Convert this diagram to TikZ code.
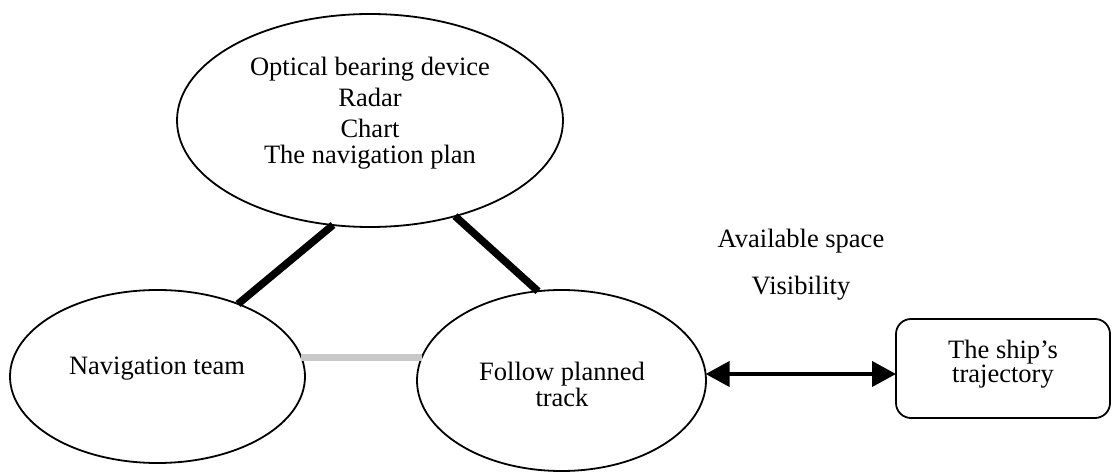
\documentclass[tikz,border=0pt]{standalone}
\usepackage{fontspec}
\setmainfont{Liberation Serif}
\usetikzlibrary{shapes.geometric,arrows.meta,calc}
\definecolor{linkgray}{RGB}{200,200,200}
\begin{document}
\begin{tikzpicture}[x=1pt,y=-1pt,
  bubble/.style={draw, ellipse, line width=1.8pt, inner sep=0pt, outer sep=0pt},
  words/.style={font=\fontsize{26.5}{25}\selectfont, inner sep=0pt, outer sep=0pt, align=center, anchor=base},
  heavylink/.style={line width=7.5pt},
  lightlink/.style={line width=7pt, draw=linkgray},
  twoway/.style={line width=4pt, {Triangle[length=24pt,width=25pt]}-{Triangle[length=24pt,width=25pt]}},
  panel/.style={draw, rounded corners=15pt, line width=1.8pt, minimum width=214pt, minimum height=99pt,
    inner sep=0pt, outer sep=0pt, align=center, font=\fontsize{26.5}{24}\selectfont, text depth=15pt}]
\useasboundingbox (0,0) rectangle (1112,473);

% the three ellipses
\node[bubble, minimum width=386pt, minimum height=213pt] (aids) at (370,120.5) {};
\node[bubble, minimum width=295pt, minimum height=173pt] (team) at (157.5,376.5) {};
\node[bubble, minimum width=289pt, minimum height=181pt] (track) at (561.5,380.5) {};

% their texts
\node[words, font=\fontsize{26.5}{26}\selectfont] (aidstxt) at (370,164)
  {Optical bearing device\\[5pt]Radar\\[5pt]Chart\\The navigation plan};
\node[words] (teamtxt) at (157,374) {Navigation team};
\node[words] (tracktxt) at (562,406) {Follow planned\\track};

% the ship's trajectory box
\node[panel] (ship) at (1003,368.5) {The ship’s\\trajectory};

% conditions above the arrow
\node[words] (space) at (801,248) {Available space};
\node[words] (visib) at (801,295) {Visibility};

% links, ending on the ellipse outlines
\draw[heavylink] ($(aids.center)+(-37,104.5)$) -- ($(team.center)+(80.5,-72.5)$);
\draw[heavylink] ($(aids.center)+(85,95.6)$) -- ($(track.center)+(-23.5,-89.3)$);
\draw[lightlink] ($(team.center)+(143.7,-19.5)$) -- ($(track.center)+(-139.5,-23.5)$);
\draw[twoway] ($(track.center)+(144.1,-6.5)$) coordinate (tip) -- (tip -| ship.west);
\end{tikzpicture}
\end{document}
